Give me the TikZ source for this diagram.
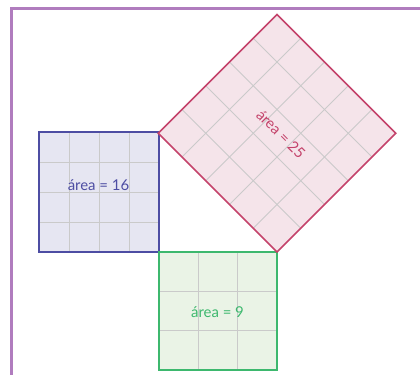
\documentclass[tikz,border=0pt]{standalone}
\usepackage{fontspec}
\setmainfont{Lato}
\definecolor{framePurple}{HTML}{B07CBE}
\definecolor{blueLine}{HTML}{4D4DA3}
\definecolor{blueFill}{HTML}{E6E6F2}
\definecolor{greenLine}{HTML}{3DB86E}
\definecolor{greenFill}{HTML}{EAF3E6}
\definecolor{pinkLine}{HTML}{C4436B}
\definecolor{pinkFill}{HTML}{F5E4EA}
\definecolor{gridGray}{HTML}{CACACA}

\begin{document}
\begin{tikzpicture}[x=0.02cm,y=0.02cm,
  gridln/.style={draw=gridGray,line width=0.5pt},
  sqbox/.style={line width=0.9pt},
  lbl/.style={font=\fontsize{8.5}{10}\selectfont}]
  \useasboundingbox (0,0) rectangle (420,375);
  % frame
  \draw[framePurple,line width=1.4pt] (11.5,0) -- (11.5,366.5) -- (420,366.5);

  % area = 16
  \fill[blueFill] (39,123) rectangle (159,243);
  \foreach \i in {1,2,3} {
    \draw[gridln] (39+\i*30,123) -- (39+\i*30,243);
    \draw[gridln] (39,123+\i*30) -- (159,123+\i*30);
  }
  \draw[sqbox,blueLine] (39,123) rectangle (159,243);
  \node[lbl,text=blueLine] (lblSixteen) at (98.5,190) {área = 16};

  % area = 9
  \fill[greenFill] (159,5) rectangle (277,123);
  \foreach \i in {1,2} {
    \draw[gridln] (159+\i*39.33,5) -- (159+\i*39.33,123);
    \draw[gridln] (159,5+\i*39.33) -- (277,5+\i*39.33);
  }
  \draw[sqbox,greenLine] (159,5) rectangle (277,123);
  \node[lbl,text=greenLine] (lblNine) at (217.5,63) {área = 9};

  % area = 25
  \begin{scope}[shift={(277,123)},rotate=45]
    \fill[pinkFill] (0,0) rectangle (168,168);
    \foreach \i in {1,2,3,4} {
      \draw[gridln] (\i*33.6,0) -- (\i*33.6,168);
      \draw[gridln] (0,\i*33.6) -- (168,\i*33.6);
    }
    \draw[sqbox,pinkLine] (0,0) rectangle (168,168);
  \end{scope}
  \node[lbl,text=pinkLine,rotate=-45] (lblTwentyFive) at (281,241) {área = 25};
\end{tikzpicture}
\end{document}
